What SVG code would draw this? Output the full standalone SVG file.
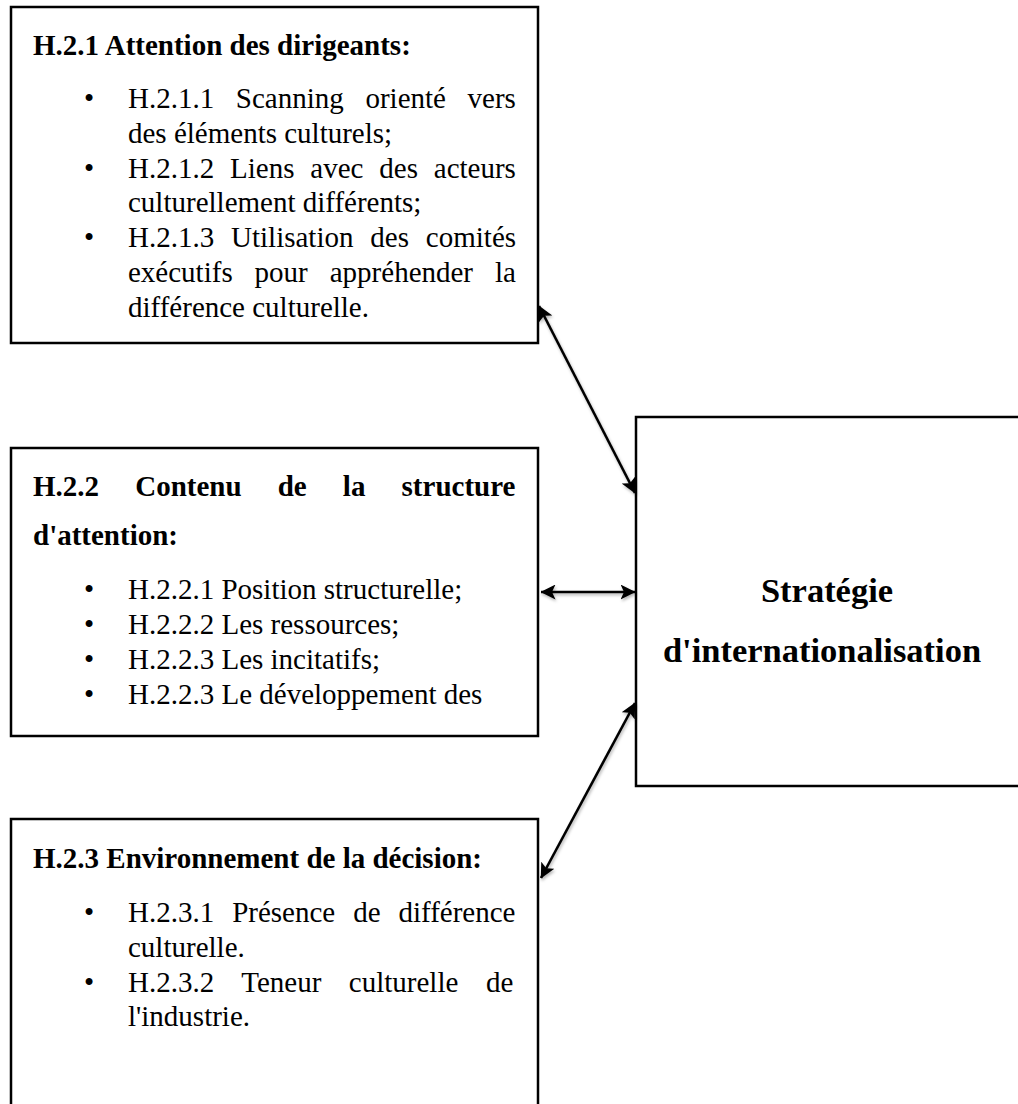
<svg xmlns="http://www.w3.org/2000/svg" width="1018" height="1104" viewBox="0 0 1018 1104">
  <style>
    .box { fill: #ffffff; stroke: #000000; stroke-width: 2.5; }
    .t { font-family: "Liberation Serif", "Times New Roman", serif; font-size: 29px; fill: #000000; }
    .h { font-weight: bold; }
    .big { font-family: "Liberation Serif", "Times New Roman", serif; font-size: 34.5px; font-weight: bold; text-anchor: middle; }
    .link { stroke: #000000; stroke-width: 2.6; fill: none; marker-start: url(#head); marker-end: url(#head); }
  </style>
  <defs>
    <marker id="head" viewBox="0 0 15 15" refX="14.5" refY="7.5" markerWidth="15" markerHeight="15" markerUnits="userSpaceOnUse" orient="auto-start-reverse">
      <path d="M0,0 L15,7.5 L0,15 L3.5,7.5 z" fill="#000000"/>
    </marker>
    <filter id="shade" x="-20%" y="-20%" width="140%" height="140%">
      <feDropShadow dx="1" dy="2" stdDeviation="1.4" flood-color="#000000" flood-opacity="0.3"/>
    </filter>
  </defs>

  <rect width="1018" height="1104" fill="#ffffff"/>

  <!-- H.2.1 -->
  <g id="attention-dirigeants">
    <rect class="box" x="11" y="7" width="527" height="336"/>
    <text class="t h" x="33" y="55">H.2.1 Attention des dirigeants:</text>
    <text class="t" x="84" y="108">•</text>
    <text class="t" x="128" y="108" word-spacing="14.4">H.2.1.1 Scanning orienté vers</text>
    <text class="t" x="128" y="142.8">des éléments culturels;</text>
    <text class="t" x="84" y="177.6">•</text>
    <text class="t" x="128" y="177.6" word-spacing="8.6">H.2.1.2 Liens avec des acteurs</text>
    <text class="t" x="128" y="212.4">culturellement différents;</text>
    <text class="t" x="84" y="247.2">•</text>
    <text class="t" x="128" y="247.2" word-spacing="9.6">H.2.1.3 Utilisation des comités</text>
    <text class="t" x="128" y="282" word-spacing="14.7">exécutifs pour appréhender la</text>
    <text class="t" x="128" y="316.8">différence culturelle.</text>
  </g>

  <!-- H.2.2 -->
  <g id="structure-attention">
    <rect class="box" x="11" y="448" width="527" height="288"/>
    <text class="t h" x="33" y="496" word-spacing="28.9">H.2.2 Contenu de la structure</text>
    <text class="t h" x="33" y="545">d'attention:</text>
    <text class="t" x="84" y="599">•</text>
    <text class="t" x="128" y="599">H.2.2.1 Position structurelle;</text>
    <text class="t" x="84" y="634">•</text>
    <text class="t" x="128" y="634">H.2.2.2 Les ressources;</text>
    <text class="t" x="84" y="669">•</text>
    <text class="t" x="128" y="669">H.2.2.3 Les incitatifs;</text>
    <text class="t" x="84" y="704">•</text>
    <text class="t" x="128" y="704">H.2.2.3 Le développement des</text>
  </g>

  <!-- H.2.3 -->
  <g id="environnement-decision">
    <rect class="box" x="11" y="819" width="527" height="300"/>
    <text class="t h" x="33" y="868">H.2.3 Environnement de la décision:</text>
    <text class="t" x="84" y="922">•</text>
    <text class="t" x="128" y="922" word-spacing="10.7">H.2.3.1 Présence de différence</text>
    <text class="t" x="128" y="956.8">culturelle.</text>
    <text class="t" x="84" y="991.6">•</text>
    <text class="t" x="128" y="991.6" word-spacing="20.3">H.2.3.2 Teneur culturelle de</text>
    <text class="t" x="128" y="1026.4">l'industrie.</text>
  </g>

  <!-- Stratégie d'internationalisation -->
  <g id="strategie">
    <rect class="box" x="636" y="417" width="400" height="369"/>
    <text class="big" x="827" y="602">Stratégie</text>
    <text class="big" x="822" y="662">d'internationalisation</text>
  </g>

  <!-- double-headed links -->
  <g id="connectors" filter="url(#shade)">
    <line class="link" x1="539" y1="306" x2="635" y2="493"/>
    <line class="link" x1="541" y1="592" x2="635" y2="592"/>
    <line class="link" x1="635" y1="703" x2="541" y2="878"/>
  </g>
</svg>
